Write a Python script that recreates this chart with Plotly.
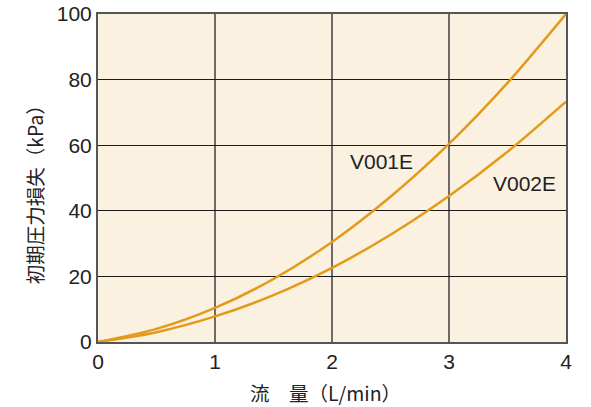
import plotly.graph_objects as go

flow = [0, 0.5, 1, 1.5, 2, 2.5, 3, 3.5, 4]
v001e = [0, 4.0, 10.4, 19.2, 30.5, 44.3, 60.4, 79.0, 100]
v002e = [0, 3.0, 7.8, 14.3, 22.6, 32.7, 44.5, 58.0, 73.3]
x_ticks = [0, 1, 2, 3, 4]
y_ticks = [0, 20, 40, 60, 80, 100]
labels = ["V001E", "V002E"]

curve_color = "#E39A1A"
num_font = "Liberation Sans, Arial, sans-serif"
jp_font = "Noto Sans CJK JP, sans-serif"

fig = go.Figure()
for ys in (v001e, v002e):
    fig.add_trace(go.Scatter(x=flow, y=ys, mode="lines",
                             line=dict(color=curve_color, width=2.5, shape="spline", smoothing=0.8),
                             showlegend=False, hoverinfo="skip"))

fig.add_annotation(x=2.14, y=54.9, text=labels[0], showarrow=False, xanchor="left", yanchor="middle",
                   font=dict(family=num_font, size=21, color="#222"))
fig.add_annotation(x=3.36, y=48.2, text=labels[1], showarrow=False, xanchor="left", yanchor="middle",
                   font=dict(family=num_font, size=21, color="#222"))

fig.add_annotation(xref="paper", yref="paper", x=-0.135, y=0.465, text="初期圧力損失（kPa）",
                   textangle=-90, showarrow=False, xanchor="center", yanchor="middle",
                   font=dict(family=jp_font, size=19.5, color="#222"))
fig.add_annotation(xref="paper", yref="paper", x=0.487, y=-0.155, text="流　量（L/min）",
                   showarrow=False, xanchor="center", yanchor="middle",
                   font=dict(family=jp_font, size=19.5, color="#222"))

fig.update_xaxes(range=[0, 4], tickvals=x_ticks, ticktext=[str(v) for v in x_ticks],
                 showgrid=True, gridcolor="#6e6a66", gridwidth=2, automargin=False,
                 showline=True, linecolor="#555", linewidth=2, mirror=True, ticklabeloverflow="allow",
                 zeroline=False, ticks="", tickfont=dict(family=num_font, size=21, color="#222"))
fig.update_yaxes(range=[0, 100], tickvals=y_ticks, ticktext=[str(v) for v in y_ticks],
                 showgrid=True, gridcolor="#1a1a1a", gridwidth=1, automargin=False,
                 showline=True, linecolor="#555", linewidth=2, mirror=True, ticklabeloverflow="allow",
                 zeroline=False, ticks="", tickfont=dict(family=num_font, size=21, color="#222"))

fig.update_layout(width=591, height=407, margin=dict(l=98, r=25, t=14, b=65),
                  paper_bgcolor="white", plot_bgcolor="#FBF1E1", showlegend=False)

fig.write_html("out.html", config={"displayModeBar": False},
               post_script="document.body.style.margin='0';")
